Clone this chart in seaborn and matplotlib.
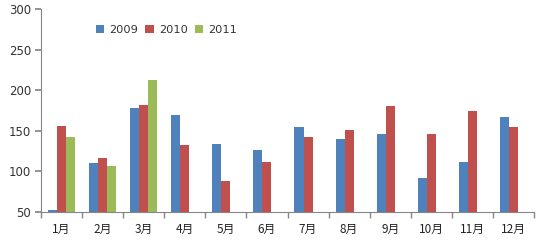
import numpy as np
import pandas as pd
import matplotlib
matplotlib.use("Agg")
import matplotlib.pyplot as plt
import seaborn as sns

months = ["1月", "2月", "3月", "4月", "5月", "6月", "7月", "8月", "9月", "10月", "11月", "12月"]
years = ["2009", "2010", "2011"]
v2009 = [52, 110, 178, 169, 134, 126, 155, 140, 146, 92, 112, 167]
v2010 = [156, 116, 182, 132, 88, 112, 142, 151, 180, 146, 174, 155]
v2011 = [142, 107, 213, np.nan, np.nan, np.nan, np.nan, np.nan, np.nan, np.nan, np.nan, np.nan]

rows = []
for y, vals in zip(years, [v2009, v2010, v2011]):
    for m, v in zip(months, vals):
        rows.append({"month": m, "year": y, "value": v})
df = pd.DataFrame(rows)

sns.set_theme(style="white")
plt.rcParams["font.family"] = ["DejaVu Sans", "Noto Sans CJK SC"]

fig = plt.figure(figsize=(5.53, 2.48), dpi=100)
ax = fig.add_axes([41/553, 1-212/248, (534-41)/553, (212-9)/248])
palette = {"2009": "#4F81BD", "2010": "#C0504D", "2011": "#9BBB59"}
sns.barplot(data=df, x="month", y="value", hue="year", palette=palette,
            width=0.66, gap=0, saturation=1, ax=ax, errorbar=None,
            linewidth=0, edgecolor="none")

ax.set_ylim(50, 300)
ax.set_yticks([50, 100, 150, 200, 250, 300])
ax.set_xlim(-0.5, 11.5)
ax.set_xlabel("")
ax.set_ylabel("")
for s in ["top", "right"]:
    ax.spines[s].set_visible(False)
for s in ["left", "bottom"]:
    ax.spines[s].set_color("#868686")
    ax.spines[s].set_linewidth(0.8)
ax.set_xticks(np.arange(-0.5, 12, 1), minor=True)
ax.tick_params(axis="x", which="major", length=0, pad=8, labelsize=8.5, colors="#222222")
ax.tick_params(axis="x", which="minor", length=4, color="#868686", direction="out", bottom=True)
ax.tick_params(axis="y", length=4, color="#868686", direction="out", left=True, labelsize=8.5, colors="#333333", pad=3)
for lbl in ax.get_xticklabels():
    lbl.set_fontfamily(["Noto Sans CJK SC", "DejaVu Sans"])

leg = ax.legend(loc="upper left", bbox_to_anchor=(0.095, 0.96), ncol=3, frameon=False,
                fontsize=8.2, handlelength=0.75, handleheight=0.75, columnspacing=0.6,
                handletextpad=0.45, borderaxespad=0.3)
for t in leg.get_texts():
    t.set_color("#333333")

fig.savefig("out.png", dpi=100)
